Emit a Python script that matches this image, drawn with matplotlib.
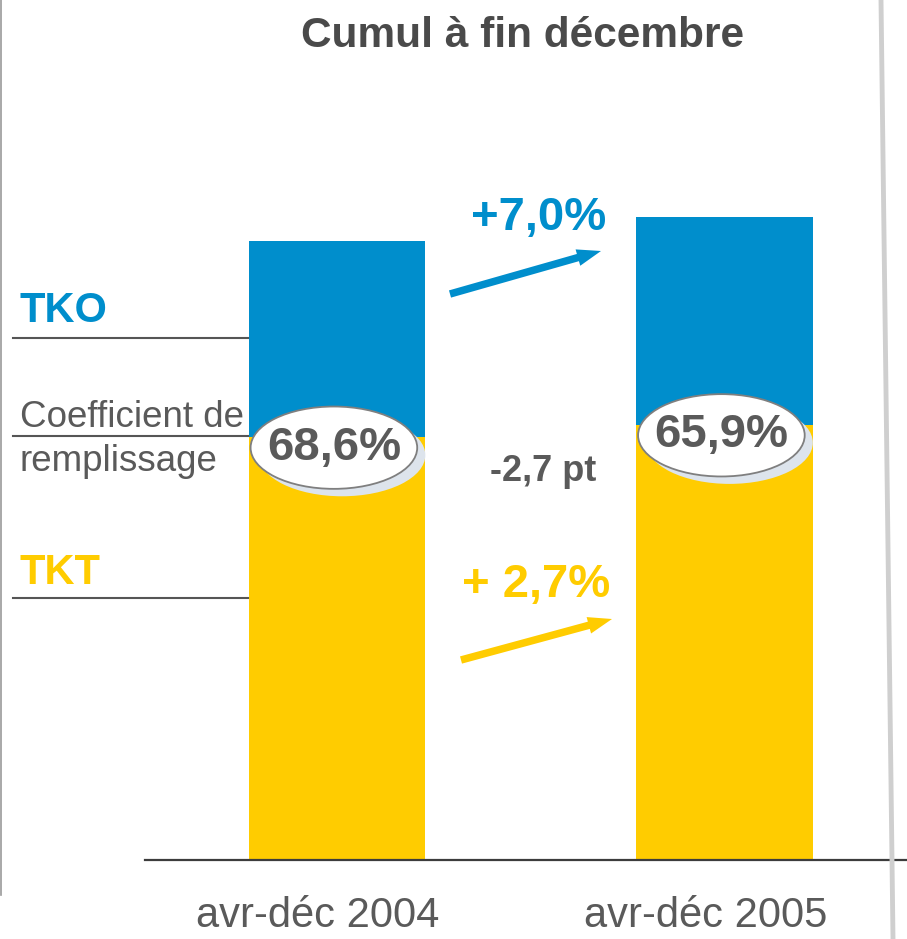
import matplotlib
matplotlib.use("Agg")
import matplotlib.pyplot as plt
from matplotlib.patches import Ellipse
from matplotlib.transforms import ScaledTranslation

plt.rcParams['font.family'] = ['Liberation Sans', 'DejaVu Sans']

# data (2004 total = 100)
periods = ['avr-déc 2004', 'avr-déc 2005']
tkt = [68.3, 70.3]          # yellow part
tko = [100.0, 103.9]        # full bar height
load_factor = ['68,6%', '65,9%']
tko_change = '+7,0%'
tkt_change = '+ 2,7%'
lf_change = '-2,7 pt'

BLUE = '#008ecc'
YELLOW = '#ffcc00'
GREY = '#5a5a5a'
W, H = 907, 939

fig = plt.figure(figsize=(W / 100, H / 100), dpi=100)

# bar axes, baseline at y=860 px
ax = fig.add_axes([145 / W, 79 / H, 762 / W, 681 / H])
x = [0, 1]
top_part = [a - b for a, b in zip(tko, tkt)]
ax.bar(x, tkt, width=0.455, color=YELLOW, zorder=2)
ax.bar(x, top_part, bottom=tkt, width=0.455, color=BLUE, zorder=2)
ax.set_xlim(-0.4955, 1.471)
ax.set_ylim(0, 110)
for s in ['top', 'right', 'left']:
    ax.spines[s].set_visible(False)
ax.spines['bottom'].set_color('#3c3c3c')
ax.spines['bottom'].set_linewidth(1.6)
ax.set_yticks([])
ax.set_xticks(x)
ax.set_xticklabels(periods, fontsize=30, color=GREY)
ax.tick_params(axis='x', length=0, pad=26)
# labels sit a bit left of the bars in the original
shift = ScaledTranslation(-19 / 100, 0, fig.dpi_scale_trans)
for lab in ax.get_xticklabels():
    lab.set_transform(lab.get_transform() + shift)

# load factor ellipses sitting on the yellow/blue boundary
for i in x:
    cx, cy = i - 0.008, tkt[i] - 1.7
    ax.add_patch(Ellipse((cx + 0.021, cy - 1.2), 0.43, 13.3, facecolor='#dde4ec',
                         edgecolor='none', zorder=3, clip_on=False))
    ax.add_patch(Ellipse((cx, cy), 0.43, 13.3, facecolor='white',
                         edgecolor='#7f7f7f', lw=1.3, zorder=4, clip_on=False))
    ax.text(cx, cy, load_factor[i], ha='center', va='center', fontsize=34,
            fontweight='bold', color=GREY, zorder=5)

# overlay in pixel coordinates for the annotations
ov = fig.add_axes([0, 0, 1, 1], facecolor='none')
ov.set_xlim(0, W)
ov.set_ylim(H, 0)
ov.axis('off')

ov.text(523, 47, 'Cumul à fin décembre', ha='center', va='baseline',
        fontsize=30.5, fontweight='bold', color='#4a4a4a')

# frame lines at the edges
ov.plot([1, 1], [0, 895], color='#9a9a9a', lw=1.2)
ov.plot([881, 893], [0, 939], color='#cfcfcf', lw=3.5)

# left legend
for yy in [338, 436, 598]:
    ov.plot([13, 248], [yy, yy], color='#555555', lw=1.5)
ov.text(20, 322, 'TKO', fontsize=30, fontweight='bold', color=BLUE, va='baseline')
ov.text(20, 584, 'TKT', fontsize=30, fontweight='bold', color=YELLOW, va='baseline')
ov.text(20, 427, 'Coefficient de', fontsize=26.5, color=GREY, va='baseline')
ov.text(20, 471, 'remplissage', fontsize=26.5, color=GREY, va='baseline')

# growth arrows and labels
ov.arrow(450, 294, 151, -43, width=7.5, head_width=17, head_length=24,
         length_includes_head=True, color=BLUE, lw=0)
ov.text(539, 230, tko_change, ha='center', va='baseline', fontsize=34,
        fontweight='bold', color=BLUE)
ov.text(543, 481, lf_change, ha='center', va='baseline', fontsize=26,
        fontweight='bold', color=GREY)
ov.text(536, 597, tkt_change, ha='center', va='baseline', fontsize=34,
        fontweight='bold', color=YELLOW)
ov.arrow(461, 660, 151, -41, width=7.5, head_width=17, head_length=24,
         length_includes_head=True, color=YELLOW, lw=0)

fig.savefig('out.png', dpi=100)
